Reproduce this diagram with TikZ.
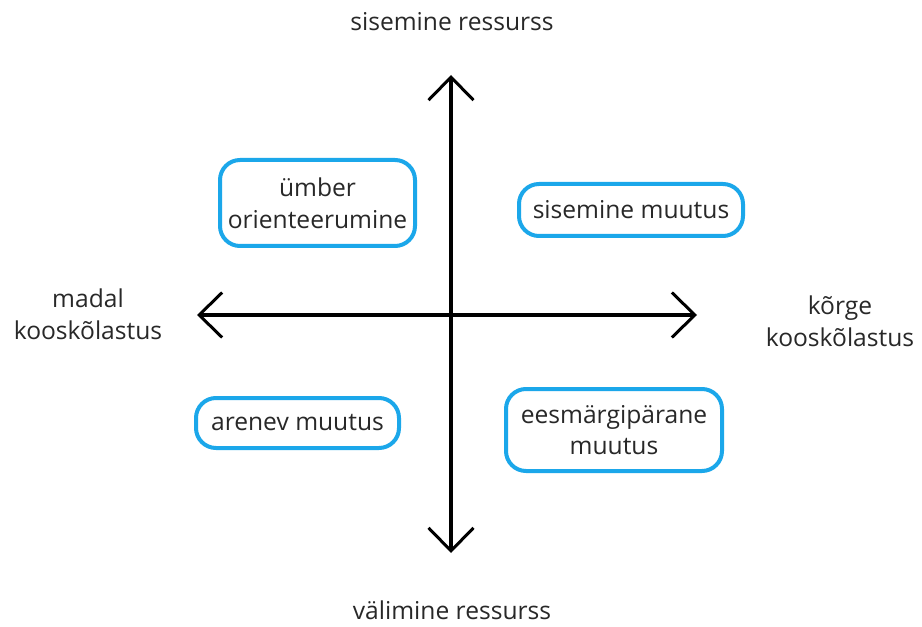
\documentclass[tikz,border=0pt]{standalone}
\usepackage{fontspec}
\setmainfont{Open Sans}
\usetikzlibrary{arrows.meta}
\definecolor{boxblue}{RGB}{27,167,234}
\definecolor{txtgray}{RGB}{40,40,40}

\begin{document}
\begin{tikzpicture}[
        every node/.style={font=\fontsize{14}{18}\selectfont,text=txtgray,align=center},
        quad/.style={draw=boxblue,line width=0.8mm,rounded corners=4mm,fill=white,inner sep=0pt},
        axis/.style={line width=0.8mm,{Straight Barb[length=4.6mm,width=9mm,line width=0.6mm]}-{Straight Barb[length=4.6mm,width=9mm,line width=0.6mm]}},
    ]
        \useasboundingbox (0,0) rectangle (18.44,12.52);
        \coordinate (west) at (3.94,6.22);
        \coordinate (east) at (13.94,6.22);
        \coordinate (north) at (9.02,11.02);
        \coordinate (south) at (9.02,1.46);
        \draw[axis] (west) -- (east);
        \draw[axis] (south) -- (north);

        \node (top) at (9.04,12.08) {sisemine ressurss};
        \node (bottom) at (9.04,0.32) {välimine ressurss};
        \node (low) at (1.76,6.24) {madal\\kooskõlastus};
        \node (high) at (16.8,6.1) {kõrge\\kooskõlastus};

        \node[quad,minimum width=3.9cm,minimum height=1.72cm] (reorient) at (6.35,8.46) {ümber\\orienteerumine};
        \node[quad,minimum width=4.48cm,minimum height=1.04cm] (inner) at (12.62,8.32) {sisemine muutus};
        \node[quad,minimum width=4.06cm,minimum height=1cm] (evolve) at (5.95,4.06) {arenev muutus};
        \node[quad,minimum width=4.32cm,minimum height=1.64cm] (goal) at (12.28,3.92) {eesmärgipärane\\muutus};

    \end{tikzpicture}
\end{document}
